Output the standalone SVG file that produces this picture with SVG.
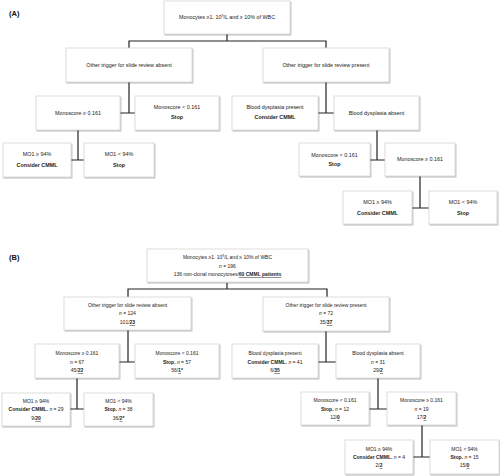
<svg xmlns="http://www.w3.org/2000/svg" width="500" height="476" viewBox="0 0 500 476">
<style>
.bx{fill:#fff;stroke:#d4d4d4;stroke-width:0.8;filter:url(#sh)}
.ta{font-family:"Liberation Sans",Arial,sans-serif;font-size:5.4px;fill:#222;text-anchor:middle}
.tb{font-family:"Liberation Sans",Arial,sans-serif;font-size:5px;fill:#222;text-anchor:middle}
.b{font-weight:bold}
.u{font-weight:bold;text-decoration:underline}
.i{font-style:italic}
.lbl{font-family:"Liberation Sans",Arial,sans-serif;font-size:7.5px;font-weight:bold;fill:#111}
.cn{fill:none;stroke:#222;stroke-width:1.2}
</style>
<defs>
<filter id="sh" x="-10%" y="-10%" width="130%" height="140%">
<feDropShadow dx="0.8" dy="1" stdDeviation="0.7" flood-color="#000" flood-opacity="0.35"/>
</filter>
</defs>
<rect width="500" height="476" fill="#fff"/>
<text class="lbl" x="9" y="16">(A)</text>
<text class="lbl" x="9" y="260">(B)</text>

<g id="connectors">
<path class="cn" d="M227 34V41M129 48V41H326V48"/>
<path class="cn" d="M129 82V113M120 113H135"/>
<path class="cn" d="M326 82V113M318 113H334"/>
<path class="cn" d="M78 130V160M71 160H84"/>
<path class="cn" d="M377 130V160M370 160H385"/>
<path class="cn" d="M420 176V208M412 208H429"/>
<path class="cn" d="M227 283V289M128 297V289H327V297"/>
<path class="cn" d="M128 330V362M119 362H135"/>
<path class="cn" d="M326 331V362M318 362H336"/>
<path class="cn" d="M77 378V409M70 409H84"/>
<path class="cn" d="M378 378V409M369 409H387"/>
<path class="cn" d="M422 425V457M413 457H430"/>
</g>

<g id="a0"><rect class="bx" x="164" y="1" width="126" height="33"/>
<text class="ta" x="227" y="19">Monocytes ≥1. 10<tspan dy="-1.8" font-size="3.6">9</tspan><tspan dy="1.8">/L and ≥ 10% of WBC</tspan></text></g>
<g id="a1"><rect class="bx" x="66" y="48" width="126" height="34"/>
<text class="ta" x="129" y="67">Other trigger for slide review absent</text></g>
<g id="a2"><rect class="bx" x="263" y="48" width="126" height="34"/>
<text class="ta" x="326" y="67">Other trigger for slide review present</text></g>
<g id="a3"><rect class="bx" x="36" y="96" width="84" height="34"/>
<text class="ta" x="78" y="115">Monoscore ≥ 0.161</text></g>
<g id="a4"><rect class="bx" x="135" y="96" width="84" height="34"/>
<text class="ta" x="177" y="109">Monoscore &lt; 0.161</text>
<text class="ta b" x="177" y="119">Stop</text></g>
<g id="a5"><rect class="bx" x="232" y="96" width="86" height="34"/>
<text class="ta" x="275" y="109">Blood dysplasia present</text>
<text class="ta b" x="275" y="119">Consider CMML</text></g>
<g id="a6"><rect class="bx" x="334" y="96" width="85" height="34"/>
<text class="ta" x="376.5" y="115">Blood dysplasia absent</text></g>
<g id="a7"><rect class="bx" x="3" y="143" width="68" height="34"/>
<text class="ta" x="37" y="156">MO1 ≥ 94%</text>
<text class="ta b" x="37" y="167">Consider CMML</text></g>
<g id="a8"><rect class="bx" x="84" y="143" width="70" height="34"/>
<text class="ta" x="119" y="156">MO1 &lt; 94%</text>
<text class="ta b" x="119" y="167">Stop</text></g>
<g id="a9"><rect class="bx" x="299" y="143" width="71" height="33"/>
<text class="ta" x="334.5" y="157">Monoscore &lt; 0.161</text>
<text class="ta b" x="334.5" y="166">Stop</text></g>
<g id="a10"><rect class="bx" x="385" y="143" width="70" height="33"/>
<text class="ta" x="420" y="161">Monoscore ≥ 0.161</text></g>
<g id="a11"><rect class="bx" x="343" y="191" width="69" height="33"/>
<text class="ta" x="377.5" y="204">MO1 ≥ 94%</text>
<text class="ta b" x="377.5" y="215">Consider CMML</text></g>
<g id="a12"><rect class="bx" x="429" y="191" width="68" height="33"/>
<text class="ta" x="463" y="204">MO1 &lt; 94%</text>
<text class="ta b" x="463" y="215">Stop</text></g>

<g id="b0"><rect class="bx" x="147" y="249" width="161" height="33"/>
<text class="tb" x="227.5" y="259">Monocytes ≥1. 10<tspan dy="-1.7" font-size="3.3">9</tspan><tspan dy="1.7">/L and ≥ 10% of WBC</tspan></text>
<text class="tb" x="227.5" y="268"><tspan class="i">n</tspan> = 196</text>
<text class="tb" x="227.5" y="276">136 non-clonal monocytoses/<tspan class="u">60 CMML patients</tspan></text></g>
<g id="b1"><rect class="bx" x="64" y="297" width="127" height="33"/>
<text class="tb" x="127.5" y="307">Other trigger for slide review absent</text>
<text class="tb" x="127.5" y="315"><tspan class="i">n</tspan> = 124</text>
<text class="tb" x="127.5" y="324">101/<tspan class="u">23</tspan></text></g>
<g id="b2"><rect class="bx" x="263" y="297" width="126" height="34"/>
<text class="tb" x="326" y="307">Other trigger for slide review present</text>
<text class="tb" x="326" y="315"><tspan class="i">n</tspan> = 72</text>
<text class="tb" x="326" y="324">35/<tspan class="u">37</tspan></text></g>
<g id="b3"><rect class="bx" x="35" y="344" width="84" height="34"/>
<text class="tb" x="77" y="355">Monoscore ≥ 0.161</text>
<text class="tb" x="77" y="364"><tspan class="i">n</tspan> = 67</text>
<text class="tb" x="77" y="372">45/<tspan class="u">22</tspan></text></g>
<g id="b4"><rect class="bx" x="135" y="344" width="84" height="34"/>
<text class="tb" x="177" y="355">Monoscore &lt; 0.161</text>
<text class="tb" x="177" y="364"><tspan class="b">Stop.</tspan> <tspan class="i">n</tspan> = 57</text>
<text class="tb" x="177" y="372">56/<tspan class="u">1</tspan><tspan class="b">*</tspan></text></g>
<g id="b5"><rect class="bx" x="232" y="344" width="86" height="34"/>
<text class="tb" x="275" y="355">Blood dysplasia present</text>
<text class="tb" x="275" y="364"><tspan class="b">Consider CMML.</tspan> <tspan class="i">n</tspan> = 41</text>
<text class="tb" x="275" y="372">6/<tspan class="u">35</tspan></text></g>
<g id="b6"><rect class="bx" x="336" y="344" width="84" height="34"/>
<text class="tb" x="378" y="355">Blood dysplasia absent</text>
<text class="tb" x="378" y="364"><tspan class="i">n</tspan> = 31</text>
<text class="tb" x="378" y="372">29/<tspan class="u">2</tspan></text></g>
<g id="b7"><rect class="bx" x="2" y="393" width="68" height="33"/>
<text class="tb" x="36" y="403">MO1 ≥ 94%</text>
<text class="tb" x="36" y="411"><tspan class="b">Consider CMML.</tspan> <tspan class="i">n</tspan> = 29</text>
<text class="tb" x="36" y="420">9/<tspan class="u">20</tspan></text></g>
<g id="b8"><rect class="bx" x="84" y="393" width="69" height="33"/>
<text class="tb" x="118.5" y="403">MO1 &lt; 94%</text>
<text class="tb" x="118.5" y="411"><tspan class="b">Stop.</tspan> <tspan class="i">n</tspan> = 38</text>
<text class="tb" x="118.5" y="420">36/<tspan class="u">2</tspan><tspan class="b">*</tspan></text></g>
<g id="b9"><rect class="bx" x="301" y="392" width="68" height="33"/>
<text class="tb" x="335" y="402">Monoscore &lt; 0.161</text>
<text class="tb" x="335" y="411"><tspan class="b">Stop.</tspan> <tspan class="i">n</tspan> = 12</text>
<text class="tb" x="335" y="419">12/<tspan class="u">0</tspan></text></g>
<g id="b10"><rect class="bx" x="387" y="392" width="69" height="33"/>
<text class="tb" x="421.5" y="402">Monoscore ≥ 0.161</text>
<text class="tb" x="421.5" y="411"><tspan class="i">n</tspan> = 19</text>
<text class="tb" x="421.5" y="419">17/<tspan class="u">2</tspan></text></g>
<g id="b11"><rect class="bx" x="345" y="440" width="68" height="34"/>
<text class="tb" x="379" y="451">MO1 ≥ 94%</text>
<text class="tb" x="379" y="459"><tspan class="b">Consider CMML.</tspan> <tspan class="i">n</tspan> = 4</text>
<text class="tb" x="379" y="467">2/<tspan class="u">2</tspan></text></g>
<g id="b12"><rect class="bx" x="430" y="440" width="69" height="34"/>
<text class="tb" x="464.5" y="451">MO1 &lt; 94%</text>
<text class="tb" x="464.5" y="459"><tspan class="b">Stop.</tspan> <tspan class="i">n</tspan> = 15</text>
<text class="tb" x="464.5" y="467">15/<tspan class="u">0</tspan></text></g>
</svg>
